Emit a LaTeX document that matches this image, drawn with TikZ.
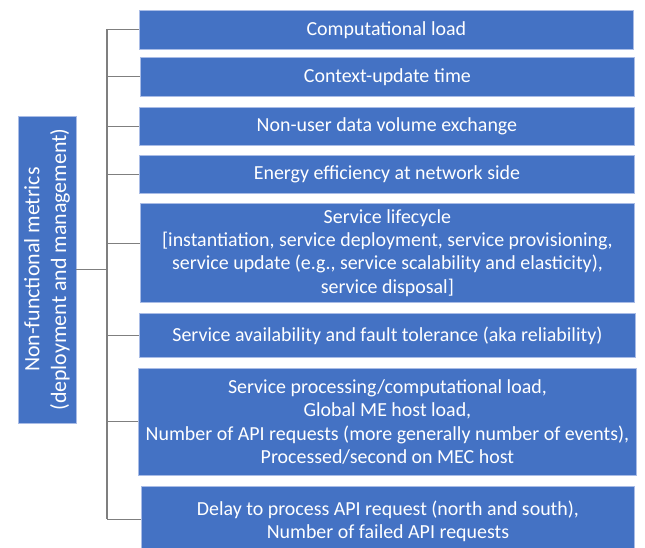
\documentclass[tikz,border=0pt]{standalone}
\usepackage{fontspec}
\setmainfont{Carlito}
\definecolor{boxblue}{HTML}{4472C4}
\definecolor{boxedge}{HTML}{A9BCE6}
\definecolor{linegray}{HTML}{7F7F7F}
\begin{document}
\begin{tikzpicture}[x=1bp,y=-1bp,
  mbox/.style={draw=boxedge, line width=0.8bp, fill=boxblue, text=white, align=center,
    inner sep=0pt, anchor=north west, font=\fontsize{20}{23.3}\selectfont},
  conn/.style={draw=linegray, line width=1.1bp}]
\useasboundingbox (0,0) rectangle (645,548);
\node[mbox, minimum width=494bp, minimum height=39bp] (b1) at (139,10) {Computational load};
\node[mbox, minimum width=494bp, minimum height=39bp] (b2) at (140,57) {Context-update time};
\node[mbox, minimum width=495bp, minimum height=38bp] (b3) at (139,107) {Non-user data volume exchange};
\node[mbox, minimum width=495bp, minimum height=38bp] (b4) at (139,155) {Energy efficiency at network side};
\node[mbox, minimum width=494bp, minimum height=99bp] (b5) at (140,203) {Service lifecycle\\{}[instantiation, service deployment, service provisioning,\\service update (e.g., service scalability and elasticity),\\service disposal]};
\node[mbox, minimum width=496bp, minimum height=44bp] (b6) at (139,313) {Service availability and fault tolerance (aka reliability)};
\node[mbox, minimum width=498bp, minimum height=107bp] (b7) at (138,368) {Service processing/computational load,\\Global ME host load,\\Number of API requests (more generally number of events),\\Processed/second on MEC host};
\node[mbox, minimum width=493bp, minimum height=70bp] (b8) at (141,486) {Delay to process API request (north and south),\\Number of failed API requests};
\node[draw=boxedge, line width=0.8bp, fill=boxblue, text=white, align=center, inner sep=0pt,
  rotate=90, minimum width=307bp, minimum height=58bp, font=\fontsize{22}{27}\selectfont]
  (root) at (47,269.5) {Non-functional metrics\\(deployment and management)};
\coordinate (t1) at (107,29);
\coordinate (t8) at (107,519);
\coordinate (tr) at (107,269.5);
\coordinate (c5) at ([yshift=9bp]b5.west);
\coordinate (c8) at ([yshift=2bp]b8.west);
\draw[conn] (t1) -- (t8);
\draw[conn] (root.south) -- (tr);
\foreach \b in {b1,b2,b3,b4,c5,b6,b7,c8}{
  \draw[conn] (t1 |- \b) -- (\b);
}
\end{tikzpicture}
\end{document}
